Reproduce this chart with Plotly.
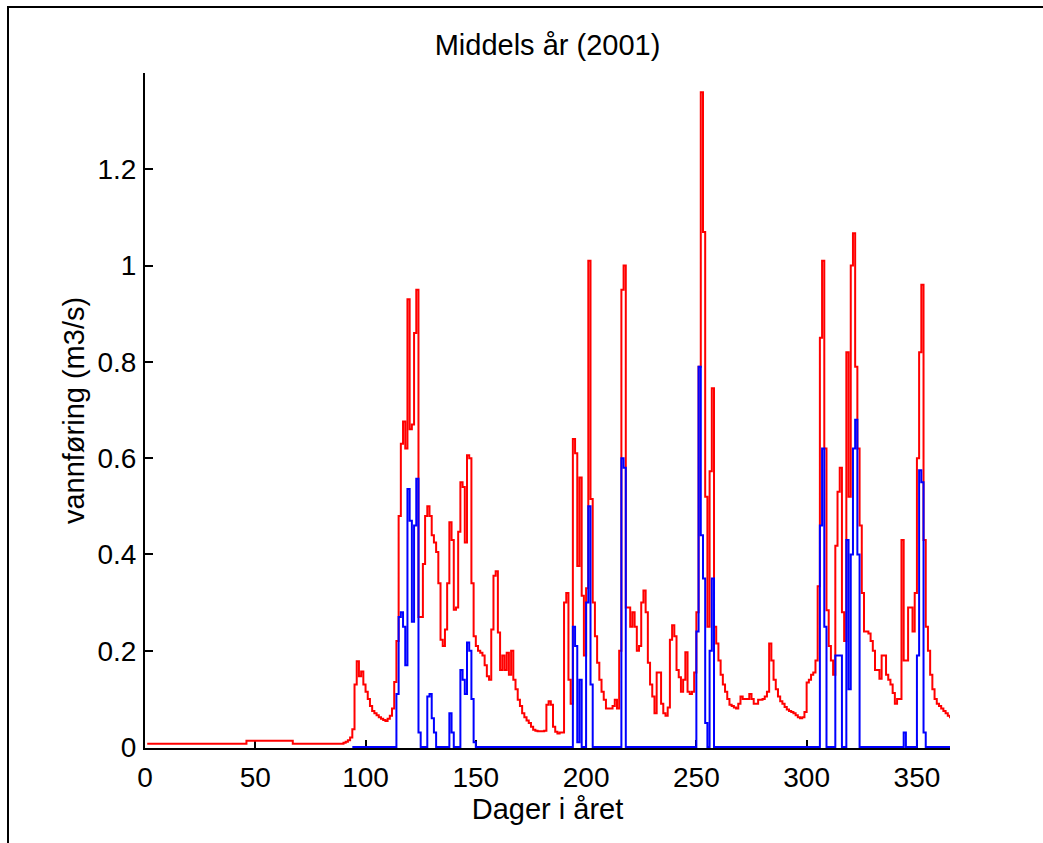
import plotly.graph_objects as go

# ---- data ----
days_red = list(range(1, 366))
red_flow = [
    0.007, 0.007, 0.007, 0.007, 0.007, 0.007, 0.007, 0.007, 0.007, 0.007,   # 1-10
    0.007, 0.007, 0.007, 0.007, 0.007, 0.007, 0.007, 0.007, 0.007, 0.007,   # 11-20
    0.007, 0.007, 0.007, 0.007, 0.007, 0.007, 0.007, 0.007, 0.007, 0.007,   # 21-30
    0.007, 0.007, 0.007, 0.007, 0.007, 0.007, 0.007, 0.007, 0.007, 0.007,   # 31-40
    0.007, 0.007, 0.007, 0.007, 0.007, 0.013, 0.013, 0.013, 0.013, 0.013,   # 41-50
    0.013, 0.013, 0.013, 0.013, 0.013, 0.013, 0.013, 0.013, 0.013, 0.013,   # 51-60
    0.013, 0.013, 0.013, 0.013, 0.013, 0.013, 0.007, 0.007, 0.007, 0.007,   # 61-70
    0.007, 0.007, 0.007, 0.007, 0.007, 0.007, 0.007, 0.007, 0.007, 0.007,   # 71-80
    0.007, 0.007, 0.007, 0.007, 0.007, 0.007, 0.007, 0.007, 0.007, 0.009,   # 81-90
    0.011, 0.014, 0.02, 0.037, 0.13, 0.178, 0.147, 0.157, 0.13, 0.115,      # 91-100
    0.1, 0.085, 0.075, 0.07, 0.066, 0.062, 0.059, 0.056, 0.054, 0.059,      # 101-110
    0.065, 0.08, 0.135, 0.22, 0.48, 0.63, 0.676, 0.62, 0.93, 0.66,          # 111-120
    0.67, 0.86, 0.95, 0.27, 0.27, 0.38, 0.48, 0.5, 0.48, 0.44,              # 121-130
    0.425, 0.405, 0.34, 0.223, 0.21, 0.244, 0.34, 0.467, 0.43, 0.285,       # 131-140
    0.29, 0.447, 0.55, 0.54, 0.425, 0.606, 0.6, 0.34, 0.23, 0.21,           # 141-150
    0.2, 0.196, 0.19, 0.17, 0.147, 0.14, 0.244, 0.356, 0.365, 0.238,        # 151-160
    0.16, 0.19, 0.16, 0.196, 0.15, 0.2, 0.14, 0.12, 0.098, 0.085,           # 161-170
    0.07, 0.062, 0.055, 0.05, 0.042, 0.036, 0.034, 0.033, 0.033, 0.033,     # 171-180
    0.034, 0.088, 0.095, 0.088, 0.042, 0.032, 0.028, 0.03, 0.03, 0.3,       # 181-190
    0.32, 0.14, 0.09, 0.64, 0.61, 0.376, 0.56, 0.314, 0.19, 0.33,           # 191-200
    1.01, 0.515, 0.3, 0.23, 0.175, 0.14, 0.115, 0.098, 0.08, 0.08,          # 201-210
    0.08, 0.085, 0.098, 0.08, 0.2, 0.95, 1.0, 0.29, 0.29, 0.25,             # 211-220
    0.28, 0.25, 0.2, 0.21, 0.3, 0.325, 0.28, 0.175, 0.13, 0.105,            # 221-230
    0.07, 0.155, 0.155, 0.09, 0.07, 0.065, 0.082, 0.223, 0.253, 0.23,       # 231-240
    0.16, 0.145, 0.115, 0.14, 0.197, 0.115, 0.11, 0.115, 0.155, 0.28,       # 241-250
    0.79, 1.36, 1.07, 0.52, 0.25, 0.573, 0.745, 0.25, 0.215, 0.18,          # 251-260
    0.15, 0.13, 0.115, 0.1, 0.088, 0.085, 0.082, 0.08, 0.09, 0.105,         # 261-270
    0.1, 0.1, 0.1, 0.11, 0.1, 0.09, 0.09, 0.098, 0.098, 0.1,                # 271-280
    0.105, 0.115, 0.215, 0.18, 0.14, 0.12, 0.105, 0.095, 0.09, 0.083,       # 281-290
    0.078, 0.075, 0.073, 0.07, 0.066, 0.062, 0.06, 0.062, 0.073, 0.134,     # 291-300
    0.14, 0.15, 0.155, 0.18, 0.334, 0.85, 1.01, 0.62, 0.284, 0.21,          # 301-310
    0.18, 0.15, 0.418, 0.53, 0.58, 0.28, 0.22, 0.82, 0.52, 1.0,             # 311-320
    1.067, 0.79, 0.62, 0.46, 0.32, 0.24, 0.24, 0.236, 0.22, 0.2,            # 321-330
    0.16, 0.16, 0.142, 0.19, 0.19, 0.15, 0.14, 0.13, 0.112, 0.09,           # 331-340
    0.1, 0.1, 0.43, 0.18, 0.18, 0.29, 0.29, 0.24, 0.32, 0.6,                # 341-350
    0.82, 0.96, 0.43, 0.25, 0.2, 0.15, 0.12, 0.1, 0.09, 0.085,              # 351-360
    0.08, 0.075, 0.07, 0.065, 0.06,                                         # 361-365
]

days_blue = list(range(94, 366))
blue_flow = [
    0, 0, 0, 0, 0, 0, 0, 0, 0, 0,                                           # 94-103
    0, 0, 0, 0, 0, 0, 0, 0, 0, 0,                                           # 104-113
    0.11, 0.27, 0.28, 0.25, 0.17, 0.536, 0.47, 0.26, 0.46, 0.557,           # 114-123
    0.03, 0, 0, 0, 0.105, 0.11, 0.06, 0.03, 0, 0,                           # 124-133
    0, 0, 0, 0, 0.07, 0.03, 0, 0, 0, 0.16,                                  # 134-143
    0.14, 0.11, 0.217, 0.2, 0.1, 0.01, 0, 0, 0, 0,                          # 144-153
    0, 0, 0, 0, 0, 0, 0, 0, 0, 0,                                           # 154-163
    0, 0, 0, 0, 0, 0, 0, 0, 0, 0,                                           # 164-173
    0, 0, 0, 0, 0, 0, 0, 0, 0, 0,                                           # 174-183
    0, 0, 0, 0, 0, 0, 0, 0, 0, 0,                                           # 184-193
    0.25, 0.21, 0.01, 0.14, 0, 0, 0.3, 0.5, 0.13, 0,                        # 194-203
    0, 0, 0, 0, 0, 0, 0, 0, 0, 0,                                           # 204-213
    0, 0, 0.6, 0.58, 0, 0, 0, 0, 0, 0,                                      # 214-223
    0, 0, 0, 0, 0, 0, 0, 0, 0, 0,                                           # 224-233
    0, 0, 0, 0, 0, 0, 0, 0, 0, 0,                                           # 234-243
    0, 0, 0, 0, 0, 0, 0.24, 0.79, 0.44, 0.35,                               # 244-253
    0.05, 0, 0.2, 0.35, 0, 0, 0, 0, 0, 0,                                   # 254-263
    0, 0, 0, 0, 0, 0, 0, 0, 0, 0,                                           # 264-273
    0, 0, 0, 0, 0, 0, 0, 0, 0, 0,                                           # 274-283
    0, 0, 0, 0, 0, 0, 0, 0, 0, 0,                                           # 284-293
    0, 0, 0, 0, 0, 0, 0, 0, 0, 0,                                           # 294-303
    0, 0, 0.46, 0.62, 0.25, 0, 0, 0, 0, 0.19,                               # 304-313
    0.19, 0.19, 0, 0, 0.43, 0.12, 0.4, 0.62, 0.68, 0.4,                     # 314-323
    0, 0, 0, 0, 0, 0, 0, 0, 0, 0,                                           # 324-333
    0, 0, 0, 0, 0, 0, 0, 0, 0, 0,                                           # 334-343
    0.03, 0, 0, 0, 0, 0, 0.19, 0.575, 0.55, 0.03,                           # 344-353
    0, 0, 0, 0, 0, 0, 0, 0, 0, 0,                                           # 354-363
    0, 0,                                                                   # 364-365
]

x_ticks = [0, 50, 100, 150, 200, 250, 300, 350]
y_ticks = [0, 0.2, 0.4, 0.6, 0.8, 1.0, 1.2]
y_tick_text = ["0", "0.2", "0.4", "0.6", "0.8", "1", "1.2"]

title_text = "Middels år (2001)"
x_title = "Dager i året"
y_title = "vannføring (m3/s)"

# ---- figure ----
W, H = 1043, 843
ML, MR, MT, MB = 145, 93, 73, 95
FONT = "Liberation Sans, Arial, Helvetica, sans-serif"
TICK_SIZE = 28
TEXT_SIZE = 29

fig = go.Figure()
fig.add_trace(go.Scatter(x=days_red, y=red_flow, mode="lines", line_shape="hv",
                         line=dict(color="#ff0000", width=2), showlegend=False))
fig.add_trace(go.Scatter(x=days_blue, y=blue_flow, mode="lines", line_shape="hv",
                         line=dict(color="#0000ff", width=2), showlegend=False))

axis_common = dict(showgrid=False, zeroline=False, showline=True, linecolor="black",
                   linewidth=2, ticks="inside", ticklen=8, tickwidth=2, tickcolor="black",
                   tickfont=dict(family=FONT, size=TICK_SIZE, color="black"),
                   layer="below traces")

fig.update_xaxes(range=[0, 365], tickvals=x_ticks, ticklabelstandoff=3,
                 title=dict(text=x_title, font=dict(family=FONT, size=TEXT_SIZE, color="black"), standoff=2),
                 **axis_common)
fig.update_yaxes(range=[-0.002, 1.4], tickvals=y_ticks, ticktext=y_tick_text, ticklabelstandoff=1,
                 title=dict(text=y_title, font=dict(family=FONT, size=TEXT_SIZE, color="black"), standoff=4),
                 **axis_common)

# outer frame (figure border), in paper coordinates
pw, ph = W - ML - MR, H - MT - MB
def px_x(p):
    return (p - ML) / pw
def px_y(p):
    return (H - MB - p) / ph

fig.add_shape(type="rect", xref="paper", yref="paper",
              x0=px_x(8), x1=px_x(1070), y0=px_y(870), y1=px_y(7),
              line=dict(color="black", width=2), fillcolor="rgba(0,0,0,0)", layer="above")

fig.update_layout(
    width=W, height=H,
    margin=dict(l=ML, r=MR, t=MT, b=MB, autoexpand=False),
    paper_bgcolor="white", plot_bgcolor="white",
    font=dict(family=FONT, size=TICK_SIZE, color="black"),
    title=dict(text=title_text, x=0.5, xref="paper", xanchor="center",
               y=1 - 45 / H, yref="container", yanchor="middle",
               font=dict(family=FONT, size=TEXT_SIZE, color="black")),
)

fig.write_html(
    "out.html",
    config={"displayModeBar": False},
    post_script="document.body.style.margin='0';document.body.style.overflow='hidden';",
)
